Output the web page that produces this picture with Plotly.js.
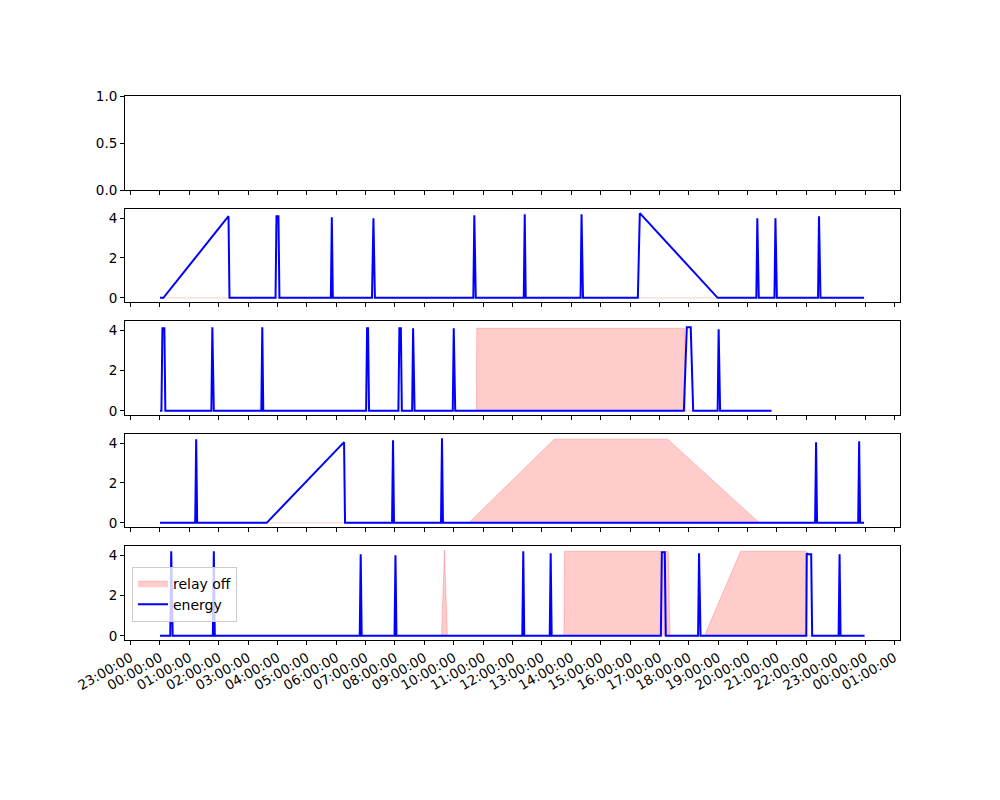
<!DOCTYPE html>
<html>
<head>
<meta charset="utf-8">
<script src="https://cdn.plot.ly/plotly-3.0.1.min.js"></script>
<style>html,body{margin:0;padding:0;background:#fff;}#chart{width:1000px;height:800px;}</style>
</head>
<body>
<div id="chart"></div>
<script>
// ---- data (times are HH:MM on the plotted day) ----
const day = "2023-05-01";

const energy2Times = ["00:00","00:07","02:20","02:22","03:56","03:58","04:02","04:04","05:49","05:51","05:53","07:13","07:16","07:19","10:40","10:42","10:45","12:23","12:25","12:27","14:19","14:21","14:24","16:16","16:20","18:59","20:18","20:20","20:23","20:55","20:57","21:00","22:24","22:26","22:29","23:58"];
const energy2Values = [0,0,4.1,0,0,4.1,4.1,0,0,4.05,0,0,4.0,0,0,4.15,0,0,4.2,0,0,4.2,0,0,4.25,0,0,4.0,0,0,4.0,0,0,4.1,0,0];
const relay2Times = ["00:00","23:58"];
const relay2Values = [0,0];

const energy3Times = ["00:00","00:03","00:05","00:09","00:11","01:45","01:47","01:50","03:27","03:29","03:31","07:01","07:03","07:05","07:07","08:07","08:09","08:12","08:14","08:35","08:37","08:40","09:58","10:00","10:03","17:50","17:56","18:04","18:09","18:59","19:01","19:04","20:49"];
const energy3Values = [0,0,4.1,4.1,0,0,4.15,0,0,4.15,0,0,4.1,4.1,0,0,4.1,4.1,0,0,4.1,0,0,4.1,0,0,4.15,4.15,0,0,4.05,0,0];
const relay3Times = ["00:00","10:46","10:47","17:51","17:53","20:49"];
const relay3Values = [0,0,4.1,4.1,0,0];

const energy4Times = ["00:00","01:12","01:14","01:16","03:38","06:16","06:18","07:54","07:56","07:58","09:34","09:36","09:38","22:18","22:20","22:22","23:46","23:48","23:50","23:58"];
const energy4Values = [0,0,4.2,0,0,4.05,0,0,4.15,0,0,4.25,0,0,4.05,0,0,4.1,0,0];
const relay4Times = ["00:00","10:31","13:25","17:17","20:24","23:58"];
const relay4Values = [0,0,4.2,4.2,0,0];

const energy5Times = ["00:00","00:21","00:23","00:26","01:48","01:50","01:52","06:48","06:50","06:52","07:59","08:01","08:03","12:20","12:22","12:24","13:16","13:18","13:20","17:03","17:05","17:11","17:13","18:19","18:21","18:24","22:00","22:01","22:04","22:10","22:12","23:06","23:08","23:10","23:59"];
const energy5Values = [0,0,4.2,0,0,4.2,0,0,4.05,0,0,4.0,0,0,4.2,0,0,4.1,0,0,4.15,4.15,0,0,4.1,0,0,4.1,4.05,4.05,0,0,4.05,0,0];
const relay5Times = ["00:00","09:35","09:41","09:47","13:45","13:46","17:18","17:22","18:32","19:46","21:59","22:00","23:59"];
const relay5Values = [0,0,4.25,0,0,4.2,4.2,0,0,4.2,4.2,0,0];

const tickLabelFormat = "%H:%M:%S";
const seriesNames = ["relay off","energy"];

// ---- build ----
const toDate = t => day + " " + t + ":00";
const sets = [
  [energy2Times, energy2Values, relay2Times, relay2Values],
  [energy3Times, energy3Values, relay3Times, relay3Values],
  [energy4Times, energy4Values, relay4Times, relay4Values],
  [energy5Times, energy5Values, relay5Times, relay5Values]
];
const traces = [];
traces.push({x: [], y: [], type: "scatter", mode: "lines", xaxis: "x", yaxis: "y", showlegend: false});
sets.forEach((s, i) => {
  const ax = i + 2;
  const last = (i === 3);
  traces.push({
    x: s[2].map(toDate), y: s[3], type: "scatter", mode: "lines",
    fill: "tozeroy", fillcolor: "rgba(255,0,0,0.2)",
    line: {color: "rgba(255,0,0,0.2)", width: 1},
    name: seriesNames[0], showlegend: last, legendrank: 1,
    xaxis: "x" + ax, yaxis: "y" + ax, hoverinfo: "skip"
  });
  traces.push({
    x: s[0].map(toDate), y: s[1], type: "scatter", mode: "lines",
    line: {color: "blue", width: 2},
    name: seriesNames[1], showlegend: last, legendrank: 2,
    xaxis: "x" + ax, yaxis: "y" + ax
  });
});

const font = {family: "DejaVu Sans, sans-serif", size: 13.5, color: "#000"};
const xRange = ["2023-04-30 22:48:36", "2023-05-02 01:11:24"];
const domains = [[0.8272, 1], [0.6213, 0.7923], [0.4136, 0.5864], [0.2077, 0.3787], [0, 0.1728]];
const layout = {
  width: 1000, height: 800,
  margin: {l: 125, r: 100, t: 96, b: 160},
  paper_bgcolor: "#fff", plot_bgcolor: "#fff",
  font: font,
  showlegend: true,
  legend: {x: 0.009, y: 0.135, xanchor: "left", yanchor: "top",
           bgcolor: "rgba(255,255,255,0.8)", bordercolor: "#cccccc", borderwidth: 1,
           font: {family: "DejaVu Sans, sans-serif", size: 14, color: "#000"},
           tracegroupgap: 0, itemwidth: 30}
};
for (let i = 1; i <= 5; i++) {
  const sfx = i === 1 ? "" : String(i);
  layout["xaxis" + sfx] = {
    type: "date", range: xRange, anchor: "y" + sfx, domain: [0, 1],
    tick0: "2023-04-30 23:00:00", dtick: 3600000, tickformat: tickLabelFormat,
    tickangle: -30, showticklabels: i === 5,
    showgrid: false, zeroline: false, showline: true, mirror: true,
    linecolor: "#000", linewidth: 1, ticks: "outside", ticklen: 4, tickwidth: 1, tickcolor: "#000",
    tickfont: font
  };
  const ya = {
    anchor: "x" + sfx, domain: domains[i - 1],
    showgrid: false, zeroline: false, showline: true, mirror: true,
    linecolor: "#000", linewidth: 1, ticks: "outside", ticklen: 4, tickwidth: 1, tickcolor: "#000",
    tickfont: font
  };
  if (i === 1) {
    ya.range = [0, 1]; ya.tickvals = [0, 0.5, 1]; ya.tickformat = ".1f";
  } else {
    ya.range = [-0.21, 4.46]; ya.tickvals = [0, 2, 4];
  }
  layout["yaxis" + sfx] = ya;
}

Plotly.newPlot("chart", traces, layout, {staticPlot: true});
</script>
</body>
</html>
